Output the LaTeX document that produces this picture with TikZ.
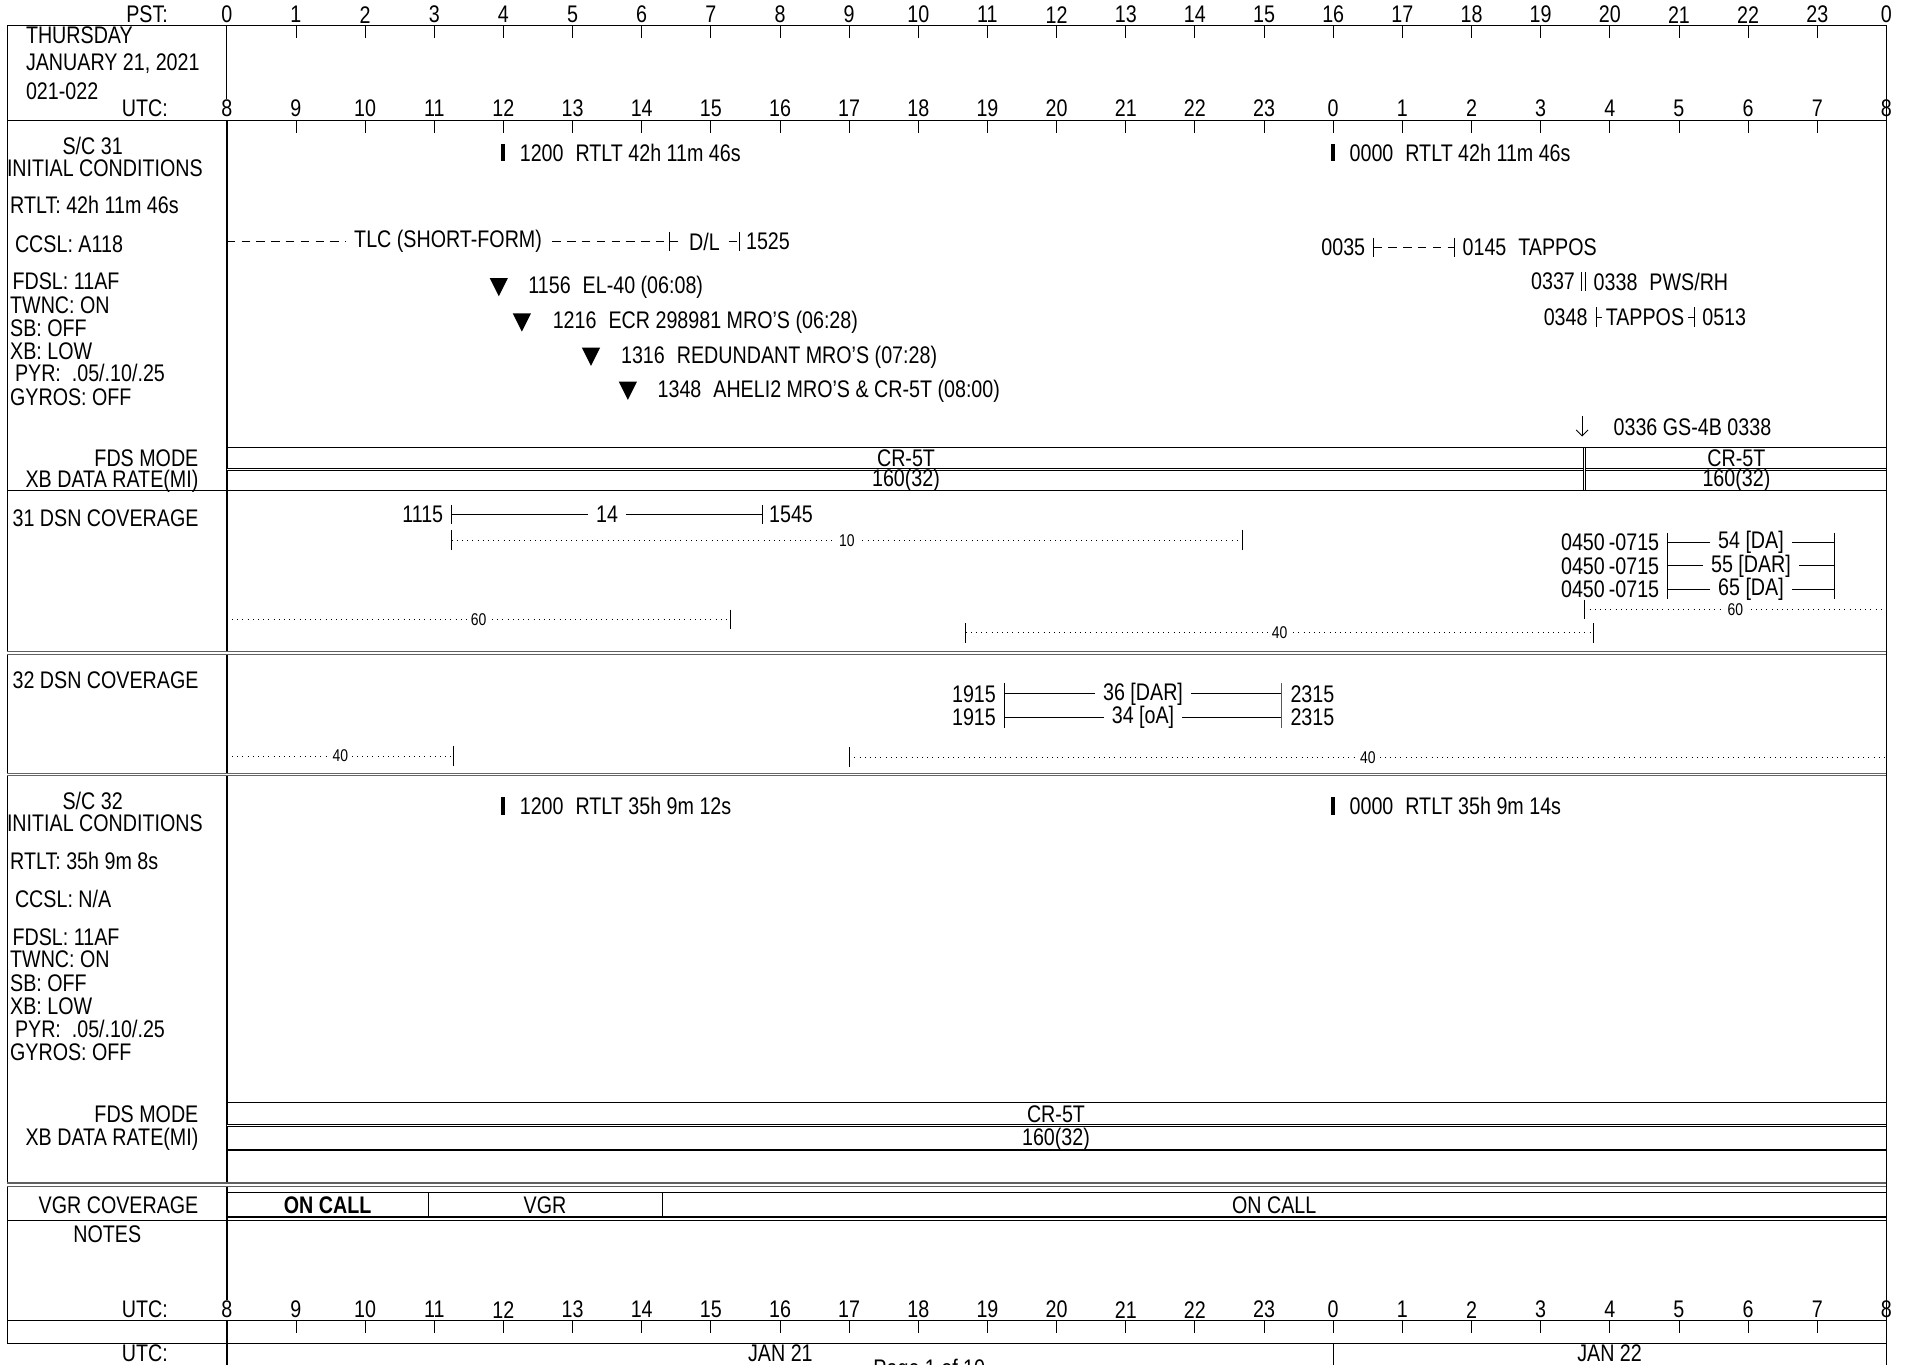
\documentclass[tikz,border=0pt]{standalone}
\usepackage{fontspec}
\setmainfont{Liberation Sans}[FakeStretch=0.82]
\usetikzlibrary{positioning, arrows.meta}
\tikzstyle{lbl}=[inner sep=0pt, font=\fontsize{12}{13}\selectfont]
\tikzstyle{onln}=[lbl, fill=white, inner xsep=4pt]
\tikzstyle{sml}=[inner sep=0pt, inner xsep=2pt, fill=white, font=\fontsize{8.5}{9}\selectfont]
\tikzstyle{bdr}=[line width=0.7pt]
\tikzstyle{tk}=[line width=0.45pt]
\tikzstyle{dsh}=[tk, dash pattern=on 4.2pt off 3.2pt]
\tikzstyle{dotl}=[line width=0.5pt, dash pattern=on 0.5pt off 2.1pt]
\tikzstyle{sep}=[line width=0.7pt, double distance=0.9pt, gray!75!black]
\tikzstyle{dbl}=[line width=0.5pt, double distance=0.7pt]
\newcommand{\utc}[1]{{186+((#1)-8)*56.7083}}

\begin{document}
\begin{tikzpicture}[x=0.6097pt, y=-0.6097pt]
    \clip (0,0) rectangle (1568,1119);
    \node[lbl, anchor=east] (pstlbl) at (138,12) {PST:};
    \foreach \h in {0,...,23} \node[lbl] (pst\h) at (\utc{\h+8},12) {\h};
    \node[lbl] (pstend) at (\utc{32},12) {0};
    \draw[bdr] (6,1102) -- (6,21) -- (1547,21) -- (1547,1119);
    \foreach \h in {9,...,31} \draw[tk] (\utc{\h},21) -- ++(0,10);
    \draw[tk] (186,21) -- (186,81);
    \node[lbl, anchor=west] (day) at (21,29) {THURSDAY};
    \node[lbl, anchor=west] (date) at (21,52) {JANUARY 21, 2021};
    \node[lbl, anchor=west] (doy) at (21,75) {021-022};
    \node[lbl, anchor=east] (utclbl) at (138,89) {UTC:};
    \foreach \h in {8,...,32} {\pgfmathtruncatemacro\hh{mod(\h,24)}\node[lbl] (utc\h) at (\utc{\h},89) {\hh};}
    \draw[bdr] (6,99) -- (1547,99);
    \foreach \h in {9,...,31} \draw[tk] (\utc{\h},99) -- ++(0,10);
    \draw[bdr] (186,99) -- (186,1066);

    \node[lbl] (sc31) at (76,120) {S/C 31};
    \node[lbl] (ic31) at (86,138) {INITIAL CONDITIONS};
    \node[lbl, anchor=west] (rt31) at (8,168) {RTLT: 42h 11m 46s};
    \node[lbl, anchor=west] (cc31) at (12,200) {CCSL: A118};
    \node[lbl, anchor=west] (fd31) at (10,231) {FDSL: 11AF};
    \node[lbl, anchor=west] (tw31) at (8,250) {TWNC: ON};
    \node[lbl, anchor=west] (sb31) at (8,269) {SB: OFF};
    \node[lbl, anchor=west] (xb31) at (8,288) {XB: LOW};
    \node[lbl, anchor=west] (py31) at (12,306) {PYR:\ \ .05/.10/.25};
    \node[lbl, anchor=west] (gy31) at (8,326) {GYROS: OFF};
    \coordinate (rA31) at (\utc{12},125);
    \coordinate (rB31) at (\utc{24},125);
    \draw[line width=2pt] (rA31) ++(0,-7) -- ++(0,14);
    \draw[line width=2pt] (rB31) ++(0,-7) -- ++(0,14);
    \node[lbl, right=8pt of rA31] (rtA31) {1200\enspace RTLT 42h 11m 46s};
    \node[lbl, right=8pt of rB31] (rtB31) {0000\enspace RTLT 42h 11m 46s};

    \coordinate (tlcA) at (186,198);
    \coordinate (tlcB) at (\utc{14.4},198);
    \coordinate (tlcC) at (\utc{15.4167},198);
    \draw[dsh] (tlcA) -- node[onln] (tlc) {TLC (SHORT-FORM)} (tlcB);
    \draw[dsh] (tlcB) -- node[onln] (dl) {D/L} (tlcC);
    \draw[tk] (tlcB) ++(0,-8) -- ++(0,16);
    \draw[tk] (tlcC) ++(0,-8) -- ++(0,16);
    \node[lbl, right=3pt of tlcC] (tlcend) {1525};

    \coordinate (tpA) at (\utc{24.5833},203);
    \coordinate (tpB) at (\utc{25.75},203);
    \draw[dsh] (tpA) -- (tpB);
    \draw[tk] (tpA) ++(0,-8) -- ++(0,16);
    \draw[tk] (tpB) ++(0,-8) -- ++(0,16);
    \node[lbl, left=4pt of tpA] (tpAl) {0035};
    \node[lbl, right=4pt of tpB] (tpBl) {0145\enspace TAPPOS};

    \coordinate (pws) at (\utc{27.6167},231);
    \draw[tk] (pws) ++(-1.5,-8) -- ++(0,16);
    \draw[tk] (pws) ++(1.5,-8) -- ++(0,16);
    \node[lbl, left=4pt of pws] (pwsA) {0337};
    \node[lbl, right=5pt of pws] (pwsB) {0338\enspace PWS/RH};

    \coordinate (tqA) at (\utc{27.8},260);
    \coordinate (tqB) at (\utc{29.2167},260);
    \draw[tk] (tqA) -- node[onln, inner xsep=2pt] (tq) {TAPPOS} (tqB);
    \draw[tk] (tqA) ++(0,-8) -- ++(0,16);
    \draw[tk] (tqB) ++(0,-8) -- ++(0,16);
    \node[lbl, left=4pt of tqA] (tqAl) {0348};
    \node[lbl, right=4pt of tqB] (tqBl) {0513};

    \fill (\utc{11.9333},235) ++(-7.5,-7) -- ++(15,0) -- ++(-7.5,15) -- cycle;
    \fill (\utc{12.2667},264) ++(-7.5,-7) -- ++(15,0) -- ++(-7.5,15) -- cycle;
    \fill (\utc{13.2667},292) ++(-7.5,-7) -- ++(15,0) -- ++(-7.5,15) -- cycle;
    \fill (\utc{13.8},320) ++(-7.5,-7) -- ++(15,0) -- ++(-7.5,15) -- cycle;
    \node[lbl, anchor=west] (ev1) at (433,236) {1156\enspace EL-40 (06:08)};
    \node[lbl, anchor=west] (ev2) at (453,264) {1216\enspace ECR 298981 MRO'S (06:28)};
    \node[lbl, anchor=west] (ev3) at (509,293) {1316\enspace REDUNDANT MRO'S (07:28)};
    \node[lbl, anchor=west] (ev4) at (539,321) {1348\enspace AHELI2 MRO'S \& CR-5T (08:00)};

    \coordinate (gsA) at (\utc{27.6},341);
    \coordinate (gsB) at (\utc{27.6},358);
    \draw[tk, -{Straight Barb[length=3pt, width=6pt]}] (gsA) -- (gsB);
    \node[lbl, anchor=west] (gs) at (1323,350) {0336 GS-4B 0338};

    \node[lbl, anchor=east] (fds31) at (163,376) {FDS MODE};
    \node[lbl, anchor=east] (xbr31) at (163,395) {XB DATA RATE(MI)};
    \draw[bdr] (186,367) -- (1547,367);
    \draw[dbl] (186,385) -- (1547,385);
    \draw[dbl] (\utc{27.6333},367) -- (\utc{27.6333},402);
    \node[lbl] (mA31) at (743,376) {CR-5T};
    \node[lbl] (dA31) at (743,394) {160(32)};
    \node[lbl] (mB31) at (1424,376) {CR-5T};
    \node[lbl] (dB31) at (1424,394) {160(32)};
    \draw[bdr] (6,402) -- (1547,402);

    \node[lbl, anchor=west] (dsn31) at (10,425) {31 DSN COVERAGE};
    \coordinate (p14a) at (\utc{11.25},422);
    \coordinate (p14b) at (\utc{15.75},422);
    \draw[tk] (p14a) -- node[onln] (p14) {14} (p14b);
    \draw[tk] (p14a) ++(0,-8) -- ++(0,16);
    \draw[tk] (p14b) ++(0,-8) -- ++(0,16);
    \node[lbl, left=4pt of p14a] (p14s) {1115};
    \node[lbl, right=3pt of p14b] (p14e) {1545};

    \coordinate (d10a) at (\utc{11.25},443);
    \coordinate (d10b) at (\utc{22.6833},443);
    \draw[dotl] (d10a) -- node[sml] (d10) {10} (d10b);
    \draw[tk] (d10a) ++(0,-8) -- ++(0,16);
    \draw[tk] (d10b) ++(0,-8) -- ++(0,16);

    \foreach \y/\lab/\nm in {445/{54 [DA]}/a, 464/{55 [DAR]}/b, 483/{65 [DA]}/c} {
      \draw[tk] (\utc{28.8333},\y) -- node[onln] (dss\nm) {\lab} (\utc{31.25},\y);
      \node[lbl, anchor=east] (dsst\nm) at (1361,\y) {0450\,-0715};
    }
    \draw[tk] (\utc{28.8333},437) -- (\utc{28.8333},491);
    \draw[tk] (\utc{31.25},437) -- (\utc{31.25},491);

    \coordinate (d60a) at (\utc{27.6333},500);
    \coordinate (d60b) at (1547,500);
    \draw[dotl] (d60a) -- node[sml] (d60r) {60} (d60b);
    \draw[tk] (d60a) ++(0,-8) -- ++(0,16);
    \coordinate (d60c) at (186,508);
    \coordinate (d60d) at (\utc{15.2833},508);
    \draw[dotl] (d60c) -- node[sml] (d60l) {60} (d60d);
    \draw[tk] (d60d) ++(0,-8) -- ++(0,16);
    \coordinate (d40a) at (\utc{18.6833},519);
    \coordinate (d40b) at (\utc{27.7667},519);
    \draw[dotl] (d40a) -- node[sml] (d40) {40} (d40b);
    \draw[tk] (d40a) ++(0,-8) -- ++(0,16);
    \draw[tk] (d40b) ++(0,-8) -- ++(0,16);
    \draw[sep] (6,535.5) -- (1547,535.5);

    \node[lbl, anchor=west] (dsn32) at (10,558) {32 DSN COVERAGE};
    \foreach \y/\lab/\nm in {569/{36 [DAR]}/a, 588/{34 [oA]}/b} {
      \draw[tk] (\utc{19.25},\y) -- node[onln] (pp\nm) {\lab} (\utc{23.25},\y);
      \node[lbl, anchor=east] (pps\nm) at (817,\y) {1915};
      \node[lbl, anchor=west] (ppe\nm) at (1058,\y) {2315};
    }
    \draw[tk] (\utc{19.25},560) -- (\utc{19.25},597);
    \draw[line width=0.8pt, gray!70!black] (\utc{23.25},560) -- (\utc{23.25},597);
    \coordinate (e40a) at (186,620);
    \coordinate (e40b) at (\utc{11.2833},620);
    \draw[dotl] (e40a) -- node[sml] (e40l) {40} (e40b);
    \draw[tk] (e40b) ++(0,-8) -- ++(0,16);
    \coordinate (e40c) at (\utc{17},621);
    \coordinate (e40d) at (1547,621);
    \draw[dotl] (e40c) -- node[sml] (e40r) {40} (e40d);
    \draw[tk] (e40c) ++(0,-8) -- ++(0,16);
    \draw[dbl, gray!80!black] (6,635) -- (1547,635);

    \node[lbl] (sc32) at (76,657) {S/C 32};
    \node[lbl] (ic32) at (86,675) {INITIAL CONDITIONS};
    \node[lbl, anchor=west] (rt32) at (8,706) {RTLT: 35h 9m 8s};
    \node[lbl, anchor=west] (cc32) at (12,737) {CCSL: N/A};
    \node[lbl, anchor=west] (fd32) at (10,769) {FDSL: 11AF};
    \node[lbl, anchor=west] (tw32) at (8,787) {TWNC: ON};
    \node[lbl, anchor=west] (sb32) at (8,806) {SB: OFF};
    \node[lbl, anchor=west] (xb32) at (8,825) {XB: LOW};
    \node[lbl, anchor=west] (py32) at (12,844) {PYR:\ \ .05/.10/.25};
    \node[lbl, anchor=west] (gy32) at (8,863) {GYROS: OFF};
    \coordinate (rA32) at (\utc{12},661);
    \coordinate (rB32) at (\utc{24},661);
    \draw[line width=2pt] (rA32) ++(0,-7) -- ++(0,14);
    \draw[line width=2pt] (rB32) ++(0,-7) -- ++(0,14);
    \node[lbl, right=8pt of rA32] (rtA32) {1200\enspace RTLT 35h 9m 12s};
    \node[lbl, right=8pt of rB32] (rtB32) {0000\enspace RTLT 35h 9m 14s};

    \node[lbl, anchor=east] (fds32) at (163,914) {FDS MODE};
    \node[lbl, anchor=east] (xbr32) at (163,934) {XB DATA RATE(MI)};
    \draw[bdr] (186,904) -- (1547,904);
    \draw[dbl] (186,923) -- (1547,923);
    \draw[bdr] (186,943) -- (1547,943);
    \node[lbl] (m32) at (866,914) {CR-5T};
    \node[lbl] (d32) at (866,934) {160(32)};
    \draw[sep] (6,971.5) -- (1547,971.5);

    \node[lbl, anchor=east] (vgrl) at (163,988) {VGR COVERAGE};
    \draw[bdr] (186,978) rectangle (1547,998);
    \draw[bdr] (\utc{10.9167},978) -- (\utc{10.9167},998);
    \draw[bdr] (\utc{14.3},978) -- (\utc{14.3},998);
    \node[lbl, font=\fontsize{12}{13}\selectfont\bfseries] (oc1) at (268.7,988) {ON CALL};
    \node[lbl] (vgr) at (447,988) {VGR};
    \node[lbl] (oc2) at (1045,988) {ON CALL};
    \draw[bdr] (6,1001) -- (1547,1001);

    \node[lbl] (notes) at (88,1012) {NOTES};
    \node[lbl, anchor=east] (utcb) at (138,1074) {UTC:};
    \foreach \h in {8,...,32} {\pgfmathtruncatemacro\hh{mod(\h,24)}\node[lbl] (utcb\h) at (\utc{\h},1074) {\hh};}
    \draw[bdr] (6,1083) -- (1547,1083);
    \foreach \h in {9,...,31} \draw[tk] (\utc{\h},1083) -- ++(0,10);
    \draw[bdr] (6,1102) -- (1547,1102);
    \draw[bdr] (186,1083) -- (186,1119);
    \draw[bdr] (\utc{24},1102) -- (\utc{24},1119);
    \node[lbl, anchor=east] (utcd) at (138,1110) {UTC:};
    \node[lbl] (jan21) at (640,1110) {JAN 21};
    \node[lbl] (jan22) at (1320,1110) {JAN 22};
    \node[lbl, anchor=north west] (page) at (716,1114) {Page 1 of 10};
  \end{tikzpicture}
\end{document}
